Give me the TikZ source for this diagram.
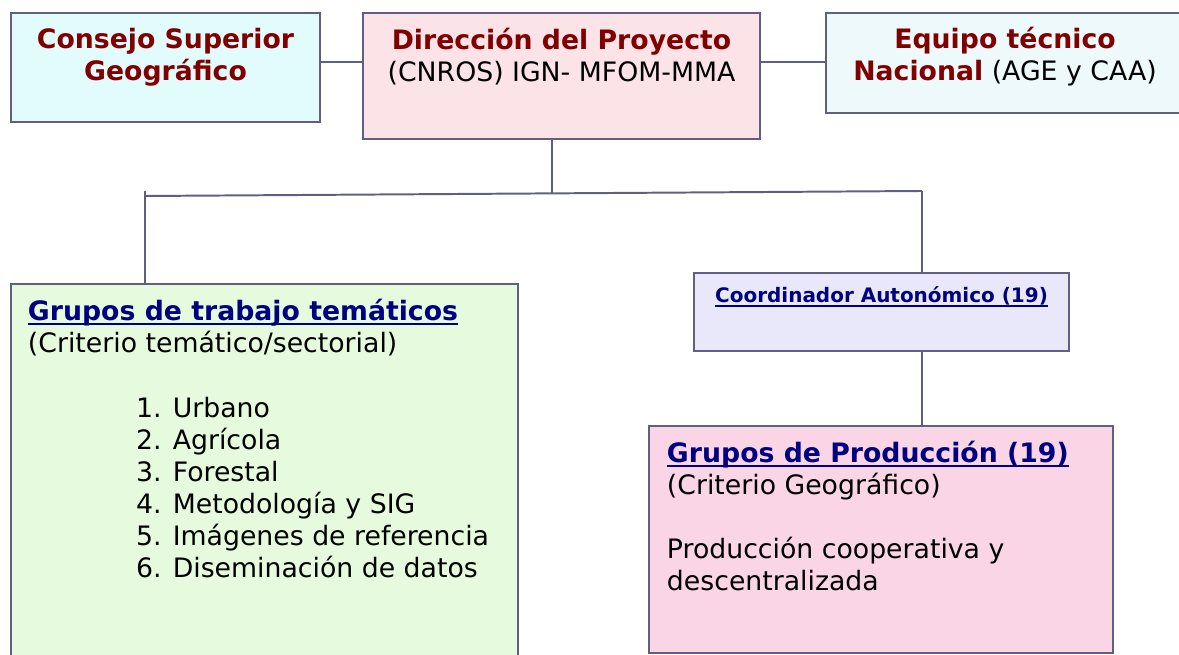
\documentclass[tikz,border=0pt]{standalone}
\usepackage{fontspec}
\setmainfont{DejaVu Sans}
\usepackage{tikz}

\definecolor{linecol}{HTML}{5F5F7F}
\definecolor{titlered}{HTML}{800000}
\definecolor{titleblue}{HTML}{000080}
\definecolor{consejofill}{HTML}{E2FCFE}
\definecolor{direccionfill}{HTML}{FBE3E8}
\definecolor{equipofill}{HTML}{EEF9FC}
\definecolor{tematicosfill}{HTML}{E6FBDD}
\definecolor{coordfill}{HTML}{E8E8FA}
\definecolor{produccionfill}{HTML}{F9D5E6}

\newsavebox{\titlesave}
\newcommand{\titleline}[1]{\sbox{\titlesave}{#1}\rlap{\usebox{\titlesave}}\rule[-3.2pt]{\wd\titlesave}{1.6pt}}
\newcommand{\boxfont}{\fontsize{19}{22.8}\selectfont}
\newcommand{\smallboxfont}{\fontsize{14.2}{17}\selectfont}

\begin{document}
\begin{tikzpicture}[x=0.025cm, y=-0.025cm,
  main node/.style={rectangle,draw=linecol,line width=1.4pt,anchor=north west,inner xsep=0pt,inner ysep=0pt},
  line/.style={draw=linecol,line width=1.4pt}]

  \useasboundingbox (0,0) rectangle (1179,655);

  \node[main node,fill=consejofill] (1) at (10,12)
    {\parbox[t][2.725cm][t]{7.725cm}{\centering\boxfont\vspace*{0.33cm}
      \strut\textcolor{titlered}{\textbf{Consejo Superior}}\\
      \textcolor{titlered}{\textbf{Geográfico}}}};
  \node[main node,fill=direccionfill] (2) at (362,12)
    {\parbox[t][3.15cm][t]{9.925cm}{\centering\boxfont\vspace*{0.34cm}
      \strut\textcolor{titlered}{\textbf{Dirección del Proyecto}}\\
      (CNROS) IGN- MFOM-MMA}};
  \node[main node,fill=equipofill] (3) at (825,12)
    {\parbox[t][2.5cm][t]{8.95cm}{\centering\boxfont\vspace*{0.33cm}
      \strut\textcolor{titlered}{\textbf{Equipo técnico}}\\
      \textcolor{titlered}{\textbf{Nacional}} (AGE y CAA)}};
  \node[main node,fill=tematicosfill,inner xsep=0.425cm] (4) at (10,283)
    {\parbox[t][9.675cm][t]{11.825cm}{\raggedright\boxfont\vspace*{0.36cm}
      \strut\textcolor{titleblue}{\textbf{\titleline{Grupos de trabajo temáticos}}}\\
      (Criterio temático/sectorial)\\[22.8pt]
      \hspace*{2.7cm}1. Urbano\\
      \hspace*{2.7cm}2. Agrícola\\
      \hspace*{2.7cm}3. Forestal\\
      \hspace*{2.7cm}4. Metodología y SIG\\
      \hspace*{2.7cm}5. Imágenes de referencia\\
      \hspace*{2.7cm}6. Diseminación de datos}};
  \node[main node,fill=coordfill] (5) at (693,272)
    {\parbox[t][1.95cm][t]{9.375cm}{\centering\smallboxfont\vspace*{0.32cm}
      \strut\textcolor{titleblue}{\textbf{\titleline{Coordinador Autonómico (19)}}}}};
  \node[main node,fill=produccionfill,inner xsep=0.45cm] (6) at (648,425)
    {\parbox[t][5.675cm][t]{10.7cm}{\raggedright\boxfont\vspace*{0.35cm}
      \strut\textcolor{titleblue}{\textbf{\titleline{Grupos de Producción (19)}}}\\
      (Criterio Geográfico)\\[22.8pt]
      Producción cooperativa y\\
      descentralizada}};

  \coordinate (a) at (145,191);
  \coordinate (a0) at (145,196);
  \coordinate (b) at (552,193);
  \coordinate (c) at (922,191);

  \draw[line] (1.east |- 0,62) -- (2.west |- 0,62);
  \draw[line] (2.east |- 0,62) -- (3.west |- 0,62);
  \draw[line] (2.south -| b) -- (b);
  \draw[line] (a0) -- (c);
  \draw[line] (a) -- (4.north -| a);
  \draw[line] (c) -- (5.north -| c);
  \draw[line] (5.south -| c) -- (6.north -| c);

\end{tikzpicture}
\end{document}
